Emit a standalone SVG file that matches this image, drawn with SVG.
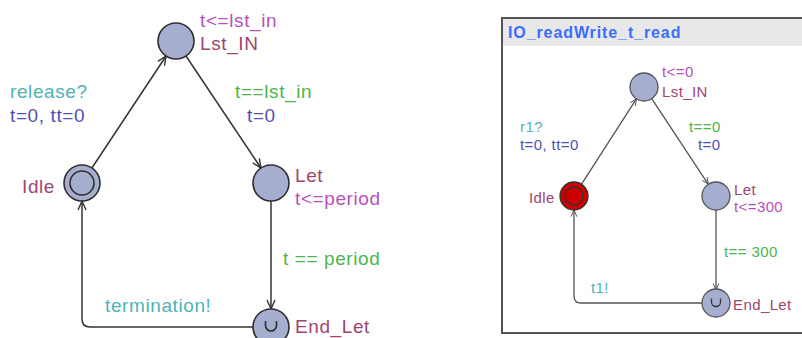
<svg xmlns="http://www.w3.org/2000/svg" width="802" height="338" viewBox="0 0 802 338">
  <defs>
    <marker id="arrL" viewBox="-10 -6 12 12" markerWidth="12" markerHeight="12" refX="0" refY="0" orient="auto" markerUnits="userSpaceOnUse">
      <path d="M-9,-4 L0,0 L-9,4" fill="none" stroke="#333" stroke-width="1.4"/>
    </marker>
    <marker id="arrR" viewBox="-10 -6 12 12" markerWidth="10" markerHeight="10" refX="0" refY="0" orient="auto" markerUnits="userSpaceOnUse">
      <path d="M-8,-3.5 L0,0 L-8,3.5" fill="none" stroke="#555" stroke-width="1.2"/>
    </marker>
  </defs>
  <style>
    .loc { fill: #a6aed0; stroke: #2e2e2e; stroke-width: 1.6; }
    .locR { fill: #a6aed0; stroke: #555; stroke-width: 1.3; }
    .edgeL { fill: none; stroke: #333; stroke-width: 1.5; marker-end: url(#arrL); }
    .edgeR { fill: none; stroke: #555; stroke-width: 1.3; marker-end: url(#arrR); }
    text { font-family: "Liberation Sans", Arial, sans-serif; }
    .big { font-size: 19px; letter-spacing: 0.6px; }
    .small { font-size: 15px; letter-spacing: 0.4px; }
    .name { fill: #a0456e; }
    .inv { fill: #b84fbd; }
    .sync { fill: #4fb3b3; }
    .upd { fill: #5050b4; }
    .guard { fill: #4cb54c; }
  </style>

  <rect width="802" height="338" fill="#ffffff"/>

  <!-- Left template -->
  <g id="left-edges">
    <path class="edgeL" d="M91.9,168 L166.1,56"/>
    <path class="edgeL" d="M186,56 L261,168"/>
    <path class="edgeL" d="M271,201 L271,309"/>
    <path class="edgeL" d="M253,327 H90 Q82,327 82,319 V201"/>
    <text class="big sync" x="10" y="98">release?</text>
    <text class="big upd" x="10" y="122">t=0, tt=0</text>
    <text class="big guard" x="235" y="98">t==lst_in</text>
    <text class="big upd" x="247" y="122">t=0</text>
    <text class="big guard" x="283" y="265">t == period</text>
    <text class="big sync" x="105" y="312">termination!</text>
  </g>

  <g id="left-lst-in">
    <circle class="loc" cx="176" cy="41" r="18"/>
    <text class="big inv" x="200" y="27">t&lt;=lst_in</text>
    <text class="big name" x="200" y="50">Lst_IN</text>
  </g>
  <g id="left-idle">
    <circle class="loc" cx="82" cy="183" r="18"/>
    <circle cx="82" cy="183" r="12" fill="none" stroke="#2e2e2e" stroke-width="1.6"/>
    <text class="big name" x="22" y="193">Idle</text>
  </g>
  <g id="left-let">
    <circle class="loc" cx="271" cy="183" r="18"/>
    <text class="big name" x="295" y="182">Let</text>
    <text class="big inv" x="295" y="205">t&lt;=period</text>
  </g>
  <g id="left-end-let">
    <circle class="loc" cx="271" cy="327" r="18"/>
    <path d="M265.5,321 V325.5 A5.5,5.5 0 0 0 276.5,325.5 V321" fill="none" stroke="#2e2e2e" stroke-width="1.6"/>
    <text class="big name" x="295" y="333">End_Let</text>
  </g>

  <!-- Right template panel -->
  <g id="panel">
    <rect x="502" y="18" width="320" height="315" fill="#ffffff" stroke="#555" stroke-width="2"/>
    <rect x="503" y="19" width="300" height="27" fill="#e8e8e8"/>
    <text x="508" y="38" font-size="16" font-weight="bold" letter-spacing="0.9" fill="#3d6dfb">IO_readWrite_t_read</text>
  </g>

  <g id="right-edges">
    <path class="edgeR" d="M581.6,184.2 L636.4,98.8"/>
    <path class="edgeR" d="M651.7,98.7 L708.3,184.3"/>
    <path class="edgeR" d="M716,210 L716,290"/>
    <path class="edgeR" d="M702,303 H581 Q574,303 574,296 V210"/>
    <text class="small sync" x="520" y="132">r1?</text>
    <text class="small upd" x="520" y="150">t=0, tt=0</text>
    <text class="small guard" x="689" y="132">t==0</text>
    <text class="small upd" x="698" y="150">t=0</text>
    <text class="small guard" x="724" y="257">t== 300</text>
    <text class="small sync" x="591" y="293">t1!</text>
  </g>

  <g id="right-lst-in">
    <circle class="locR" cx="644" cy="87" r="14"/>
    <text class="small inv" x="662" y="77">t&lt;=0</text>
    <text class="small name" x="662" y="97">Lst_IN</text>
  </g>
  <g id="right-idle">
    <circle cx="574" cy="196" r="14" fill="#cc0000" stroke="#333" stroke-width="1.3"/>
    <circle cx="574" cy="196" r="9" fill="none" stroke="#333" stroke-width="1.3"/>
    <text class="small name" x="529" y="203">Idle</text>
  </g>
  <g id="right-let">
    <circle class="locR" cx="716" cy="196" r="14"/>
    <text class="small name" x="734" y="195">Let</text>
    <text class="small inv" x="734" y="212">t&lt;=300</text>
  </g>
  <g id="right-end-let">
    <circle class="locR" cx="716" cy="303" r="14"/>
    <path d="M711.5,298.5 V302 A4.5,4.5 0 0 0 720.5,302 V298.5" fill="none" stroke="#333" stroke-width="1.3"/>
    <text class="small name" x="733" y="310">End_Let</text>
  </g>
</svg>
